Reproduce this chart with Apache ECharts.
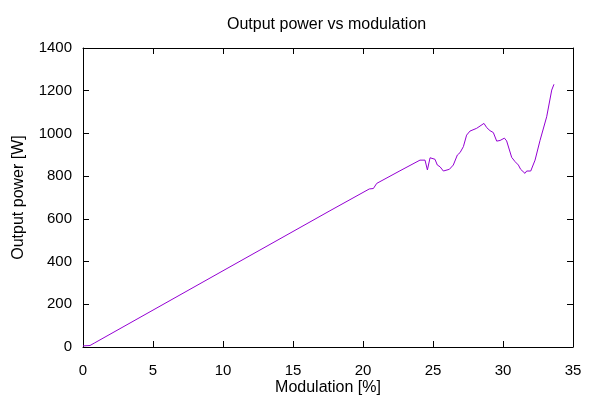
<!DOCTYPE html>
<html>
<head>
  <title>Output power vs modulation</title>
  <script src="https://cdn.jsdelivr.net/npm/echarts@6/dist/echarts.min.js"></script>
  <style>
    html, body { margin: 0; padding: 0; background: #fff; }
  </style>
</head>
<body>
  <div id="main" style="width: 600px; height: 400px;"></div>

  <script>
    // values
    var modulation = [0, 0.5, 0.8, 4.79, 10, 12.64, 17.64, 20.45, 20.74, 20.98, 22.64, 24.07,
      24.43, 24.6, 24.79, 25.14, 25.31, 25.5, 25.74, 25.86, 26.17, 26.45, 26.55, 26.74, 26.93,
      27.17, 27.4, 27.64, 28.12, 28.64, 28.84, 29.07, 29.31, 29.55, 29.79, 29.9, 30.1, 30.26,
      30.62, 30.86, 31.1, 31.26, 31.57, 31.69, 31.98, 32.29, 32.64, 33.12, 33.48, 33.64];
    var power = [5, 7, 18, 165, 357, 454, 638, 740, 742, 766, 825, 875,
      875, 829, 886, 879, 852, 844, 824, 832, 832, 852, 857, 899, 910,
      938, 992, 1011, 1024, 1047, 1027, 1013, 1004, 964, 967, 970, 978, 965,
      888, 868, 852, 832, 813, 824, 824, 875, 966, 1078, 1203, 1230];

    var xTicks = { min: 0, max: 35, step: 5 };
    var yTicks = { min: 0, max: 1400, step: 200 };

    var chart = echarts.init(document.getElementById('main'));

    var points = modulation.map(function (m, i) { return [m, power[i]]; });

    var font = 'Liberation Sans, Arial, Helvetica, sans-serif';
    var axisLine = { show: true, onZero: false, lineStyle: { color: '#000', width: 1 } };
    var tick = { show: true, inside: true, length: 6, lineStyle: { color: '#000', width: 1 } };
    var plain = function (v) { return String(v); };

    chart.setOption({
      animation: false,
      backgroundColor: '#fff',
      title: {
        text: 'Output power vs modulation',
        left: 227,
        top: 11,
        padding: 0,
        textStyle: { fontFamily: font, fontSize: 16, fontWeight: 'normal', color: '#000' }
      },
      grid: { left: 83, right: 27, top: 48, bottom: 53, containLabel: false, outerBoundsMode: 'none' },
      xAxis: [
        {
          type: 'value',
          min: xTicks.min, max: xTicks.max, interval: xTicks.step,
          name: 'Modulation [%]',
          nameLocation: 'middle',
          nameGap: 27,
          nameMoveOverlap: false,
          nameTextStyle: { fontFamily: font, fontSize: 16, color: '#000' },
          axisLine: axisLine,
          axisTick: tick,
          axisLabel: { margin: 11, fontFamily: font, fontSize: 15, color: '#000', formatter: plain },
          splitLine: { show: false }
        },
        {
          type: 'value', position: 'top',
          min: xTicks.min, max: xTicks.max, interval: xTicks.step,
          axisLine: axisLine, axisTick: tick,
          axisLabel: { show: false }, splitLine: { show: false }
        }
      ],
      yAxis: [
        {
          type: 'value',
          min: yTicks.min, max: yTicks.max, interval: yTicks.step,
          name: 'Output power [W]',
          nameLocation: 'middle',
          nameGap: 51,
          nameMoveOverlap: false,
          nameTextStyle: { fontFamily: font, fontSize: 16, color: '#000' },
          axisLine: axisLine,
          axisTick: tick,
          axisLabel: { margin: 11, fontFamily: font, fontSize: 15, color: '#000', formatter: plain },
          splitLine: { show: false }
        },
        {
          type: 'value', position: 'right',
          min: yTicks.min, max: yTicks.max, interval: yTicks.step,
          axisLine: axisLine, axisTick: tick,
          axisLabel: { show: false }, splitLine: { show: false }
        }
      ],
      series: [
        {
          type: 'line',
          data: points,
          showSymbol: false,
          symbol: 'none',
          lineStyle: { color: '#9400d3', width: 1 },
          itemStyle: { color: '#9400d3' }
        }
      ]
    });
  </script>
</body>
</html>
